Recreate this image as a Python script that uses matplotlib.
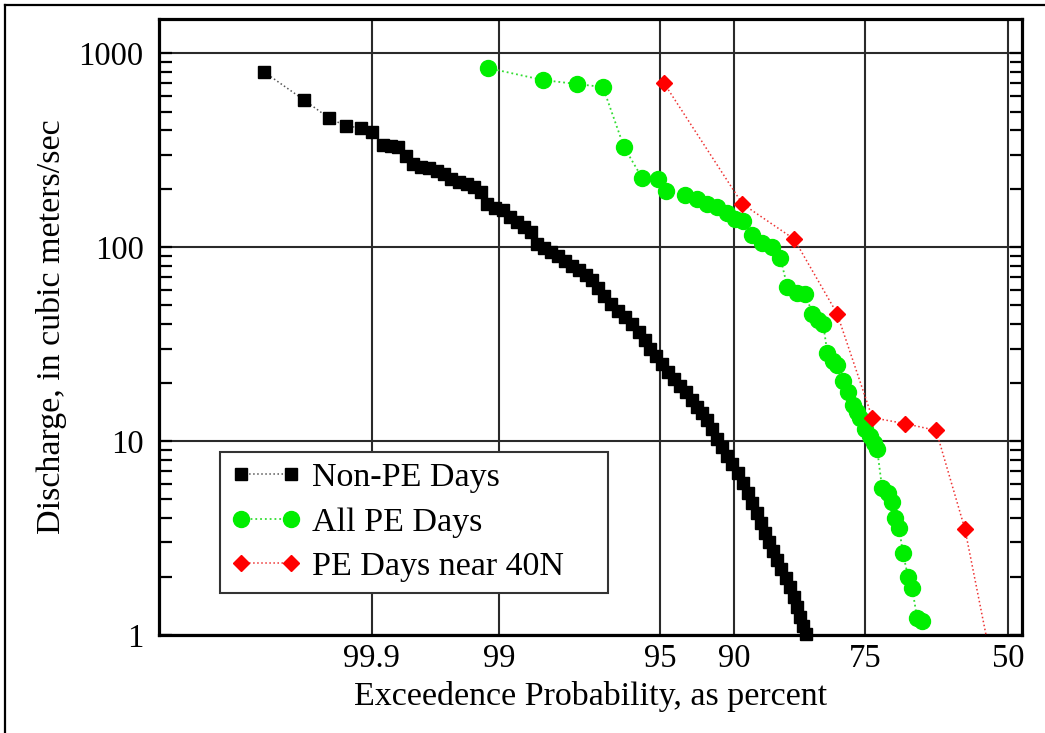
from statistics import NormalDist

import numpy as np
import matplotlib
matplotlib.use("Agg")
import matplotlib.pyplot as plt
from matplotlib import ticker
from matplotlib.lines import Line2D

plt.rcParams['font.family'] = ['Liberation Serif', 'DejaVu Serif']

# ---- data: exceedance probability (%) and discharge (m3/s) ----
nonpe_pct = [99.99059, 99.9762, 99.9589, 99.9409, 99.9193, 99.899, 99.8743, 99.8527, 99.8311, 99.803,
             99.7754, 99.7388, 99.698, 99.6508, 99.6046, 99.5526, 99.4859, 99.4102, 99.3363, 99.2543,
             99.1758, 99.0629, 98.9546, 98.8698, 98.7795, 98.6818, 98.5782, 98.4845, 98.368, 98.241,
             98.110, 97.969, 97.819, 97.659, 97.492, 97.339, 97.177, 97.01, 96.805, 96.587,
             96.356, 96.114, 95.856, 95.621, 95.422, 95.176, 94.903, 94.583, 94.256, 93.911,
             93.546, 93.164, 92.837, 92.494, 92.136, 91.768, 91.395, 91.004, 90.596, 90.175,
             89.68, 89.26, 88.82, 88.45, 87.98, 87.59, 87.21, 86.83, 86.45, 86.02,
             85.60, 85.06, 84.64, 84.21, 83.87, 83.52, 83.16, 82.81]
nonpe_q = [800, 573, 463, 421, 412, 393, 336, 333, 329, 295,
           269, 259, 256, 247, 239, 225, 217, 212, 205, 193,
           167, 160, 156, 143, 134, 127, 119, 104, 99.3, 94.7,
           90.3, 85.1, 80.2, 76.5, 72.1, 68.0, 61.8, 56.2, 51.1, 47.1,
           43.8, 40.3, 36.7, 33.0, 30.0, 27.3, 25.1, 22.8, 21.0, 19.3,
           17.8, 16.2, 14.9, 13.9, 12.8, 11.5, 10.3, 9.28, 8.34, 7.59,
           6.82, 6.06, 5.38, 4.78, 4.25, 3.77, 3.35, 3.01, 2.71, 2.43,
           2.19, 1.97, 1.77, 1.57, 1.39, 1.24, 1.11, 1.01]

pe_pct = [99.1624, 98.385, 97.705, 97.04, 96.389, 95.74, 95.091, 94.698, 93.607, 92.837,
          92.136, 91.395, 90.596, 89.93, 89.26, 88.45, 87.50, 86.54, 85.70, 84.96,
          83.87, 82.93, 82.10, 81.38, 80.73, 80.22, 79.44, 78.93, 78.10, 77.40,
          76.71, 76.15, 75.73, 75.0, 74.21, 73.60, 73.15, 72.37, 71.41, 70.76,
          70.28, 69.63, 68.98, 68.13, 67.45, 66.59, 65.74]
pe_q = [838, 727, 693, 669, 329, 228, 225, 195, 186, 178,
        167, 161, 150, 140, 137, 115, 105, 100.5, 88.2, 62.6,
        58.3, 57.6, 45.4, 42.3, 39.9, 28.6, 26.0, 24.8, 20.5, 17.8,
        15.3, 14.1, 13.1, 11.6, 10.6, 9.73, 9.06, 5.71, 5.38, 4.84,
        4.0, 3.55, 2.64, 1.99, 1.75, 1.22, 1.18]

near_pct = [94.80, 89.30, 84.21, 78.93, 73.91, 68.64, 63.28, 58.04, 53.0]
near_q = [702, 167, 110, 45.4, 13.2, 12.3, 11.35, 3.51, 0.70]

x_ticks = [99.9, 99, 95, 90, 75, 50]
x_tick_labels = ["99.9", "99", "95", "90", "75", "50"]
y_ticks = [1, 10, 100, 1000]

# ---- probability-paper scale ----
# the labelled percentages sit at these fractions of the axis width (from the left)
_nd = NormalDist()
tick_frac = [0.2464, 0.3942, 0.5809, 0.6667, 0.8186, 0.9843]
_negz = [-_nd.inv_cdf(p / 100.0) for p in x_ticks]
_sl = (tick_frac[1] - tick_frac[0]) / (_negz[1] - _negz[0])
_sr = (tick_frac[-1] - tick_frac[-2]) / (_negz[-1] - _negz[-2])
NEG_Z = np.array([-12.0] + _negz + [12.0])
FRAC = np.array([tick_frac[0] - (_negz[0] + 12.0) * _sl] + tick_frac
                + [tick_frac[-1] + (12.0 - _negz[-1]) * _sr])

_ppf = np.vectorize(_nd.inv_cdf, otypes=[float])
_cdf = np.vectorize(_nd.cdf, otypes=[float])


# increasing in p; the limits are given high-to-low so high percentages sit on the left
def prob_forward(p):
    p = np.clip(np.asarray(p, dtype=float), 1e-7, 100 - 1e-7)
    return 1.0 - np.interp(-_ppf(p / 100.0), NEG_Z, FRAC)


def prob_inverse(v):
    negz = np.interp(1.0 - np.asarray(v, dtype=float), FRAC, NEG_Z)
    return 100.0 * _cdf(-negz)


fig = plt.figure(figsize=(10.45, 7.33), dpi=100)
ax = fig.add_axes([159 / 1045, 1 - 635 / 733, 862.5 / 1045, 616 / 733])

ax.plot(nonpe_pct, nonpe_q, linestyle=':', linewidth=1.1, color='#555555',
        marker='s', markersize=9, markerfacecolor='black', markeredgecolor='black',
        label='Non-PE Days', clip_on=False, zorder=3)
ax.plot(pe_pct, pe_q, linestyle=':', linewidth=1.3, color='#33dd33',
        marker='o', markersize=11.5, markerfacecolor='#00ee00', markeredgecolor='#00ee00',
        label='All PE Days', zorder=4)
ax.plot(near_pct, near_q, linestyle=':', linewidth=1.1, color='#ee3333',
        marker='D', markersize=8.5, markerfacecolor='#ff0000', markeredgecolor='#ff0000',
        label='PE Days near 40N', zorder=5)

ax.set_xscale('function', functions=(prob_forward, prob_inverse))
ax.set_xlim(float(prob_inverse(1.0)), float(prob_inverse(0.0)))
ax.xaxis.set_major_locator(ticker.FixedLocator(x_ticks))
ax.xaxis.set_major_formatter(ticker.FixedFormatter(x_tick_labels))
ax.xaxis.set_minor_locator(ticker.NullLocator())

ax.set_yscale('log')
ax.set_ylim(1, 1500)
ax.yaxis.set_major_locator(ticker.FixedLocator(y_ticks))
ax.yaxis.set_major_formatter(ticker.FuncFormatter(lambda v, _: '%g' % v))
ax.yaxis.set_minor_locator(ticker.LogLocator(base=10, subs=np.arange(2, 10)))
ax.yaxis.set_minor_formatter(ticker.NullFormatter())

ax.grid(True, which='major', color='#2a2a2a', linewidth=1.5)
ax.set_axisbelow(True)
for sp in ax.spines.values():
    sp.set_linewidth(2.3)
    sp.set_color('black')

ax.tick_params(axis='y', which='both', direction='in', left=True, right=True,
               length=9, width=1.6, labelsize=23.5, pad=11)
ax.tick_params(axis='x', which='both', length=0, labelsize=23.5, pad=6)

ax.set_xlabel('Exceedence Probability, as percent', fontsize=24.5)
ax.set_ylabel('Discharge, in cubic meters/sec', fontsize=24.5)
ax.xaxis.set_label_coords(0.5, -0.074)
ax.yaxis.set_label_coords(-0.107, 0.5)

leg = ax.legend(loc='lower left', bbox_to_anchor=(0.0707, 0.0682, 0.4499, 0.232),
                mode='expand', numpoints=2, fontsize=24.5, frameon=True, fancybox=False,
                framealpha=1, edgecolor='#333333', borderpad=0.32, labelspacing=0.4,
                handlelength=2.06, handletextpad=0.32, borderaxespad=0)
leg.get_frame().set_linewidth(1.5)

# thin border of the original figure (left and top edges)
fig.add_artist(Line2D([5 / 1045, 5 / 1045], [0, 1 - 5 / 733], color='black', linewidth=1.6))
fig.add_artist(Line2D([5 / 1045, 1], [1 - 5 / 733, 1 - 5 / 733], color='black', linewidth=1.6))

fig.savefig('out.png', dpi=100)
